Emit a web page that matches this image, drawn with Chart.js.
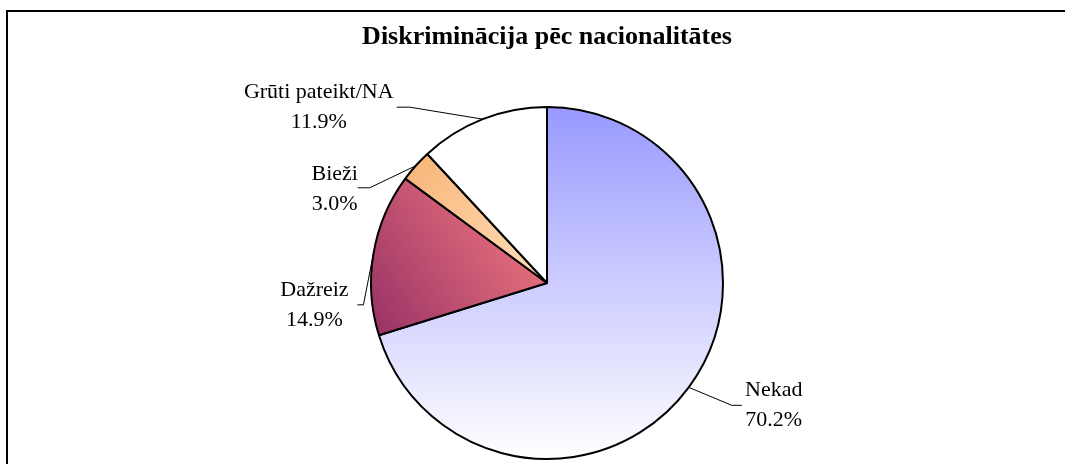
<!DOCTYPE html>
<html>
<head>
<meta charset="utf-8">
<script src="https://cdn.jsdelivr.net/npm/chart.js@4"></script>
<style>
  html, body { margin: 0; padding: 0; background: #fff; overflow: hidden; }
  #wrap { position: relative; width: 1065px; height: 464px; }
  #frame {
    position: absolute; left: 6px; top: 10px; width: 1100px; height: 500px;
    border: 2px solid #000; pointer-events: none;
  }
</style>
</head>
<body>
<div id="wrap">
  <canvas id="pie"></canvas>
  <div id="frame"></div>
</div>
<script>
// data
const categories = ['Nekad', 'Dažreiz', 'Bieži', 'Grūti pateikt/NA'];
const shares     = [70.2, 14.9, 3.0, 11.9];
const chartTitle = 'Diskriminācija pēc nacionalitātes';

// label placement relative to the slice's outer mid point: elbow, leader end, text centre
const labelLayout = [
  { elbow: [43, 18],   end: [53, 18],   text: [85, 18] },
  { elbow: [-10, 51],  end: [-16, 51],  text: [-59, 51] },
  { elbow: [-46, 22],  end: [-58, 22],  text: [-81, 23] },
  { elbow: [-73, -12], end: [-86, -12], text: [-164, -12] }
];

const SERIF = "'Liberation Serif', 'Times New Roman', serif";

function sliceFill(ctx) {
  const chart = ctx.chart;
  const area = chart.chartArea;
  const fallback = ['#9999ff', '#993366', '#ffcc99', '#ffffff'][ctx.dataIndex];
  if (!area) return fallback;
  const r  = chart.getDatasetMeta(0).controller.outerRadius || 176;
  const cx = (area.left + area.right) / 2;
  const cy = (area.top + area.bottom) / 2;
  const c  = chart.ctx;
  let g;
  switch (ctx.dataIndex) {
    case 0:
      g = c.createLinearGradient(0, cy - r, 0, cy + r);
      g.addColorStop(0, '#9999ff');
      g.addColorStop(1, '#ffffff');
      return g;
    case 1:
      g = c.createLinearGradient(cx - r, cy + 0.25 * r, cx - 0.1 * r, cy - 0.35 * r);
      g.addColorStop(0, '#993366');
      g.addColorStop(1, '#ea727d');
      return g;
    case 2:
      g = c.createLinearGradient(cx - 0.8 * r, cy - 0.65 * r, cx, cy);
      g.addColorStop(0, '#f8b67a');
      g.addColorStop(1, '#ffdfbc');
      return g;
    default:
      return '#ffffff';
  }
}

const sliceLabels = {
  id: 'sliceLabels',
  afterDatasetsDraw(chart) {
    const c = chart.ctx;
    const meta = chart.getDatasetMeta(0);
    c.save();
    c.font = '22px ' + SERIF;
    c.fillStyle = '#000';
    c.strokeStyle = '#000';
    c.lineWidth = 1;
    c.textAlign = 'center';
    c.textBaseline = 'middle';
    meta.data.forEach((arc, i) => {
      const { x, y, startAngle, endAngle, outerRadius } = arc.getProps(['x', 'y', 'startAngle', 'endAngle', 'outerRadius'], true);
      const mid = (startAngle + endAngle) / 2;
      const px = x + Math.cos(mid) * outerRadius;
      const py = y + Math.sin(mid) * outerRadius;
      const L = labelLayout[i];
      c.beginPath();
      c.moveTo(px, py);
      c.lineTo(px + L.elbow[0], py + L.elbow[1]);
      c.lineTo(px + L.end[0], py + L.end[1]);
      c.stroke();
      const tx = px + L.text[0];
      const ty = py + L.text[1];
      c.fillText(categories[i], tx, ty - 15);
      c.fillText(shares[i].toFixed(1) + '%', tx, ty + 15);
    });
    c.restore();
  }
};

new Chart(document.getElementById('pie'), {
  type: 'pie',
  plugins: [sliceLabels],
  data: {
    labels: categories,
    datasets: [{
      data: shares,
      backgroundColor: sliceFill,
      borderColor: '#000',
      borderWidth: 2,
      hoverOffset: 0
    }]
  },
  options: {
    responsive: true,
    maintainAspectRatio: false,
    animation: false,
    radius: 176,
    layout: { padding: { left: 29, right: 0, top: 0, bottom: 0 } },
    plugins: {
      legend: { display: false },
      tooltip: { enabled: false },
      title: {
        display: true,
        text: chartTitle,
        color: '#000',
        font: { family: SERIF, size: 26, weight: 'bold', lineHeight: 1.2 },
        padding: { top: 21.6, bottom: 49.2 }
      }
    }
  }
});
</script>
</body>
</html>
